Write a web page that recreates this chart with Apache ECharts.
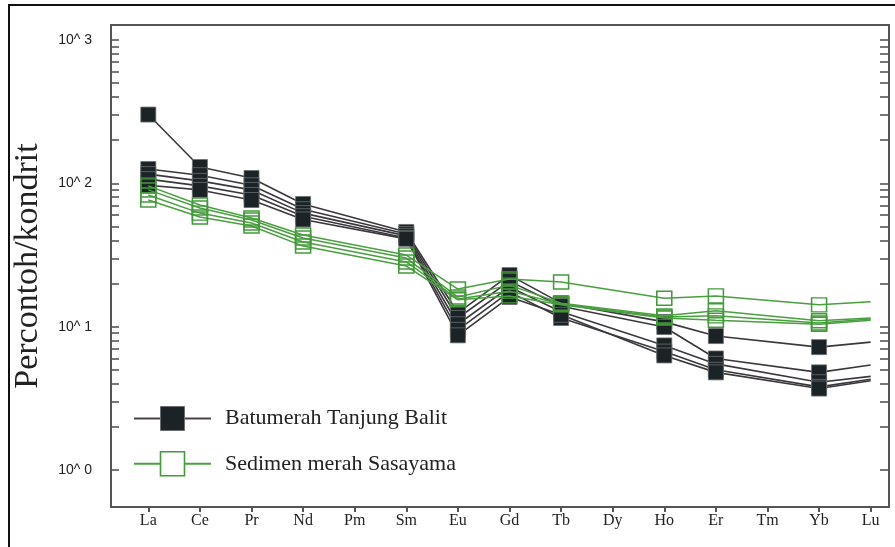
<!DOCTYPE html>
<html lang="id">
<head>
    <meta charset="utf-8">
    <title>Pola REE ternormalisasi kondrit</title>
    <script type="text/javascript" src="https://cdn.jsdelivr.net/npm/echarts@6/dist/echarts.min.js"></script>
    <style>
        html, body { margin: 0; padding: 0; background: #fff; }
        #main { width: 895px; height: 547px; }
    </style>
</head>
<body>
<div id="main"></div>

<script>
    // unsur tanah jarang (sumbu x)
    var elements = ['La', 'Ce', 'Pr', 'Nd', 'Pm', 'Sm', 'Eu', 'Gd', 'Tb', 'Dy', 'Ho', 'Er', 'Tm', 'Yb', 'Lu'];

    // Batumerah Tanjung Balit (null = tidak dianalisis)
    var black1 = [302, 130, 109, 71.8, null, 45.8, 12.5, 22.9, 14.6, null, 10.8, 8.6, null, 7.2, 7.8];
    var black2 = [126, 114, 97, 66, null, 44.3, 11.5, 20.8, 13.9, null, 9.95, 6.0, null, 4.8, 5.4];
    var black3 = [116, 104, 90, 62, null, 43, 10.4, 18.9, 12.7, null, 7.4, 5.5, null, 4.1, 4.5];
    var black4 = [107, 96, 83, 59, null, 41.6, 9.5, 17.5, 11.5, null, 6.7, 5.0, null, 3.8, 4.3];
    var black5 = [97, 90, 76.5, 56, null, 41, 8.7, 16.1, 12.1, null, 6.3, 4.8, null, 3.7, 4.2];

    // Sedimen merah Sasayama
    var green1 = [96, 70.6, 57.3, 43.6, null, 31.6, 18.3, 21.5, 20.5, null, 15.8, 16.4, null, 14.2, 14.9];
    var green2 = [90, 67.3, 55.5, 41.6, null, 30.1, 16.1, 19.5, 14.6, null, 11.9, 12.9, null, 11.0, 11.5];
    var green3 = [83, 62, 52.9, 39, null, 28.3, 15.6, 17.7, 14.4, null, 11.7, 11.9, null, 10.6, 11.3];
    var green4 = [76.5, 58.2, 50.4, 36.5, null, 26.5, 15.4, 16.4, 14.2, null, 11.5, 11.1, null, 10.4, 11.1];

    // tick sumbu y (log)
    var yTicks = [1, 2, 3, 4, 5, 6, 7, 8, 9, 10, 20, 30, 40, 50, 60, 70, 80, 90,
        100, 200, 300, 400, 500, 600, 700, 800, 900, 1000];
    var yLabels = [1, 10, 100, 1000];
    var xTicks = [0, 1, 2, 3, 4, 5, 6, 7, 8, 9, 10, 11, 12, 13, 14];

    var nameBlack = 'Batumerah Tanjung Balit';
    var nameGreen = 'Sedimen merah Sasayama';
    var blackLine = '#3b383d';
    var greenLine = '#4a9f40';

    function toData(arr) {
        var out = [];
        for (var i = 0; i < arr.length; i++) {
            if (arr[i] == null) continue;
            var item = {value: [i, arr[i]]};
            if (i === arr.length - 1) item.symbol = 'none'; // Lu tanpa simbol
            out.push(item);
        }
        return out;
    }

    function blackSeries(arr) {
        return {
            name: nameBlack,
            type: 'line',
            data: toData(arr),
            symbol: 'rect',
            symbolSize: 15,
            lineStyle: {color: blackLine, width: 1.6},
            itemStyle: {color: '#1c2326', borderColor: '#6a6e70', borderWidth: 0.8},
            z: 2
        };
    }

    function greenSeries(arr) {
        return {
            name: nameGreen,
            type: 'line',
            data: toData(arr),
            symbol: 'rect',
            symbolSize: [15, 14],
            lineStyle: {color: greenLine, width: 1.5},
            itemStyle: {color: 'rgba(255,255,255,0)', borderColor: '#449a3b', borderWidth: 1.5},
            z: 3
        };
    }

    var chart = echarts.init(document.getElementById('main'));

    var yMin = 0.552, yMax = 1273;

    var option = {
        animation: false,
        backgroundColor: '#fff',
        graphic: [{
            type: 'rect',
            shape: {x: 9, y: 5, width: 900, height: 600},
            style: {fill: 'none', stroke: '#111', lineWidth: 2},
            silent: true
        }],
        grid: {
            left: 111, right: 6, top: 25, bottom: 40,
            show: true,
            borderColor: '#555',
            borderWidth: 2
        },
        legend: {
            orient: 'vertical',
            left: 128,
            top: 401,
            itemWidth: 77,
            itemHeight: 30,
            itemGap: 20,
            textStyle: {
                fontFamily: 'Liberation Serif',
                fontSize: 22,
                color: '#222',
                padding: [0, 0, 0, 9]
            },
            data: [
                {
                    name: nameBlack,
                    itemStyle: {color: '#1c2326', borderColor: '#6a6e70', borderWidth: 1},
                    lineStyle: {color: '#4a4448', width: 2}
                },
                {
                    name: nameGreen,
                    itemStyle: {color: '#fff', borderColor: '#449a3b', borderWidth: 1.6},
                    lineStyle: {color: greenLine, width: 2}
                }
            ]
        },
        xAxis: {
            type: 'value',
            min: -0.723,
            max: 14.355,
            splitLine: {show: false},
            axisLine: {show: false, onZero: false},
            axisTick: {
                show: true,
                customValues: xTicks,
                length: 5,
                lineStyle: {color: '#555', width: 2}
            },
            axisLabel: {
                customValues: xTicks,
                margin: 6,
                fontFamily: 'Liberation Serif',
                fontSize: 16,
                color: '#222',
                formatter: function (v) { return elements[Math.round(v)]; }
            }
        },
        yAxis: [{
            type: 'log',
            logBase: 10,
            min: yMin,
            max: yMax,
            name: 'Percontoh/kondrit',
            nameLocation: 'middle',
            nameGap: 66,
            nameTextStyle: {fontFamily: 'Liberation Serif', fontSize: 34, color: '#222'},
            splitLine: {show: false},
            axisLine: {show: false, onZero: false},
            axisTick: {
                show: true,
                inside: true,
                length: 8,
                customValues: yTicks,
                lineStyle: {color: '#555', width: 1.6}
            },
            axisLabel: {
                customValues: yLabels,
                margin: 19,
                fontFamily: 'Liberation Sans',
                fontSize: 14,
                color: '#222',
                formatter: function (v) { return '10^ ' + Math.round(Math.log10(v)); }
            }
        }, {
            type: 'log',
            logBase: 10,
            min: yMin,
            max: yMax,
            position: 'right',
            splitLine: {show: false},
            axisLine: {show: false, onZero: false},
            axisTick: {
                show: true,
                inside: true,
                length: 9,
                customValues: yTicks,
                lineStyle: {color: '#555', width: 1.6}
            },
            axisLabel: {show: false}
        }],
        series: [
            blackSeries(black1),
            blackSeries(black2),
            blackSeries(black3),
            blackSeries(black4),
            blackSeries(black5),
            greenSeries(green1),
            greenSeries(green2),
            greenSeries(green3),
            greenSeries(green4)
        ]
    };

    chart.setOption(option);
</script>
</body>
</html>
